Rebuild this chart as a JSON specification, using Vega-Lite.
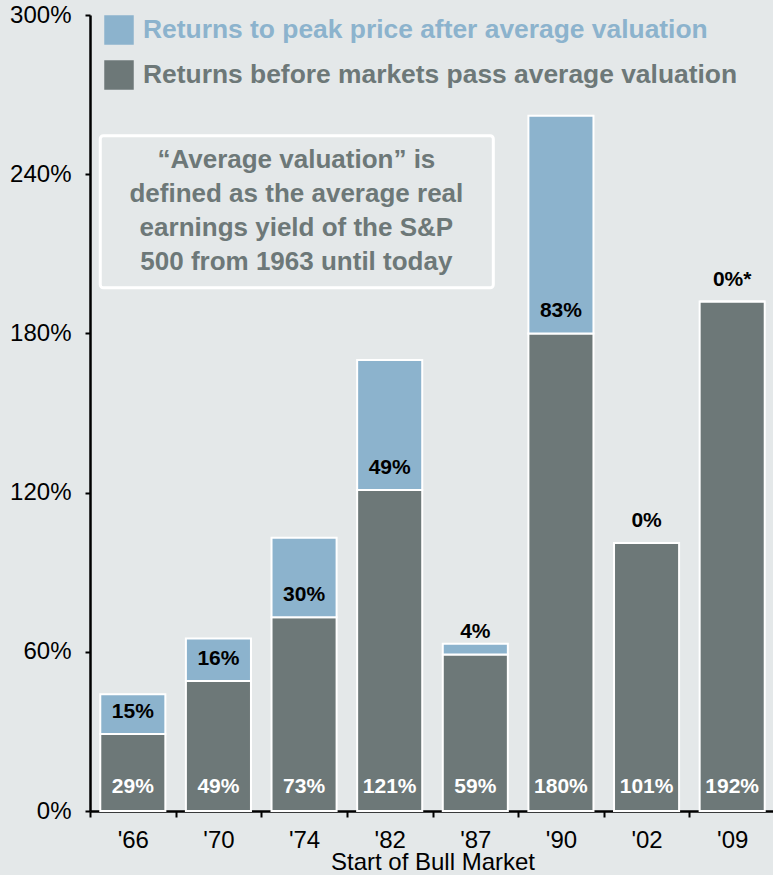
{
  "$schema": "https://vega.github.io/schema/vega-lite/v6.json",
  "width": 685,
  "height": 796,
  "padding": {"left": 90, "top": 15, "right": 0, "bottom": 64},
  "autosize": {"type": "none"},
  "background": "#e4e8e9",
  "config": {"view": {"stroke": null}, "font": "Liberation Sans"},
  "datasets": {
    "bars": [
      {"year": "'66", "segment": "Returns before markets pass average valuation", "ord": 0, "value": 29},
      {"year": "'66", "segment": "Returns to peak price after average valuation", "ord": 1, "value": 15},
      {"year": "'70", "segment": "Returns before markets pass average valuation", "ord": 0, "value": 49},
      {"year": "'70", "segment": "Returns to peak price after average valuation", "ord": 1, "value": 16},
      {"year": "'74", "segment": "Returns before markets pass average valuation", "ord": 0, "value": 73},
      {"year": "'74", "segment": "Returns to peak price after average valuation", "ord": 1, "value": 30},
      {"year": "'82", "segment": "Returns before markets pass average valuation", "ord": 0, "value": 121},
      {"year": "'82", "segment": "Returns to peak price after average valuation", "ord": 1, "value": 49},
      {"year": "'87", "segment": "Returns before markets pass average valuation", "ord": 0, "value": 59},
      {"year": "'87", "segment": "Returns to peak price after average valuation", "ord": 1, "value": 4},
      {"year": "'90", "segment": "Returns before markets pass average valuation", "ord": 0, "value": 180},
      {"year": "'90", "segment": "Returns to peak price after average valuation", "ord": 1, "value": 82},
      {"year": "'02", "segment": "Returns before markets pass average valuation", "ord": 0, "value": 101},
      {"year": "'02", "segment": "Returns to peak price after average valuation", "ord": 1, "value": 0},
      {"year": "'09", "segment": "Returns before markets pass average valuation", "ord": 0, "value": 192},
      {"year": "'09", "segment": "Returns to peak price after average valuation", "ord": 1, "value": 0}
    ],
    "labels": [
      {"year": "'66", "dark": 29, "bottom": "29%", "top": "15%"},
      {"year": "'70", "dark": 49, "bottom": "49%", "top": "16%"},
      {"year": "'74", "dark": 73, "bottom": "73%", "top": "30%"},
      {"year": "'82", "dark": 121, "bottom": "121%", "top": "49%"},
      {"year": "'87", "dark": 59, "bottom": "59%", "top": "4%"},
      {"year": "'90", "dark": 180, "bottom": "180%", "top": "83%"},
      {"year": "'02", "dark": 101, "bottom": "101%", "top": "0%"},
      {"year": "'09", "dark": 192, "bottom": "192%", "top": "0%*"}
    ],
    "note": [
      {"x0": 0.12, "x1": 4.71, "y0": 197.2, "y1": 254.5, "xc": 2.41, "yc": 245.5,
       "text": "“Average valuation” is\ndefined as the average real\nearnings yield of the S&P\n500 from 1963 until today"}
    ]
  },
  "resolve": {"scale": {"x": "independent"}},
  "layer": [
    {
      "layer": [
        {
          "data": {"name": "bars"},
          "mark": {"type": "bar", "stroke": "white", "strokeWidth": 2, "width": {"band": 0.76}},
          "encoding": {
            "x": {
              "field": "year", "type": "ordinal", "sort": null,
              "scale": {"paddingInner": 0, "paddingOuter": 0},
              "axis": {
                "title": "Start of Bull Market", "titleFontSize": 24, "titleFontWeight": "normal",
                "titleColor": "black", "titlePadding": -2, "titleFont": "Liberation Sans",
                "labelAngle": 0, "labelFontSize": 24, "labelColor": "black", "labelPadding": 11,
                "tickBand": "extent", "tickColor": "black", "tickWidth": 2, "tickSize": 6,
                "domainColor": "black", "domainWidth": 2.5, "grid": false
              }
            },
            "y": {
              "field": "value", "type": "quantitative", "stack": "zero",
              "scale": {"domain": [0, 300]},
              "axis": {
                "title": null, "values": [0, 60, 120, 180, 240, 300],
                "labelExpr": "datum.value + '%'", "labelFontSize": 24, "labelColor": "black",
                "labelPadding": 14, "tickColor": "black", "tickWidth": 2, "tickSize": 5,
                "domainColor": "black", "domainWidth": 2.5, "grid": false
              }
            },
            "color": {
              "field": "segment", "type": "nominal",
              "scale": {
                "domain": ["Returns to peak price after average valuation", "Returns before markets pass average valuation"],
                "range": ["#8cb3cd", "#6d7878"]
              },
              "legend": {
                "orient": "none", "legendX": 14, "legendY": 0, "title": null,
                "symbolType": "square", "symbolSize": 870, "symbolStrokeWidth": 0,
                "labelFontSize": 26.4, "labelFontWeight": "bold",
                "labelColor": {"expr": "datum.value == 'Returns to peak price after average valuation' ? '#8cb3cd' : '#6d7878'"},
                "labelOffset": 9, "rowPadding": 15, "padding": 0, "labelLimit": 700
              }
            },
            "order": {"field": "ord"}
          }
        },
        {
          "data": {"name": "labels"},
          "mark": {"type": "text", "color": "white", "fontWeight": "bold", "fontSize": 21, "dy": -24, "baseline": "middle"},
          "encoding": {
            "x": {"field": "year", "type": "ordinal", "sort": null},
            "y": {"datum": 0, "type": "quantitative"},
            "text": {"field": "bottom"}
          }
        },
        {
          "data": {"name": "labels"},
          "mark": {"type": "text", "color": "black", "fontWeight": "bold", "fontSize": 21, "dy": -22, "baseline": "middle"},
          "encoding": {
            "x": {"field": "year", "type": "ordinal", "sort": null},
            "y": {"field": "dark", "type": "quantitative"},
            "text": {"field": "top"}
          }
        }
      ]
    },
    {
      "data": {"name": "note"},
      "layer": [
        {
          "mark": {"type": "rect", "fill": null, "stroke": "white", "strokeWidth": 3, "cornerRadius": 3},
          "encoding": {
            "x": {"field": "x0", "type": "quantitative", "scale": {"domain": [0, 8]}, "axis": null},
            "x2": {"field": "x1"},
            "y": {"field": "y0", "type": "quantitative"},
            "y2": {"field": "y1"}
          }
        },
        {
          "mark": {"type": "text", "lineBreak": "\n", "lineHeight": 34, "fontSize": 26, "fontWeight": "bold", "color": "#6d7878", "align": "center", "baseline": "middle"},
          "encoding": {
            "x": {"field": "xc", "type": "quantitative", "scale": {"domain": [0, 8]}, "axis": null},
            "y": {"field": "yc", "type": "quantitative"},
            "text": {"field": "text"}
          }
        }
      ]
    }
  ]
}
